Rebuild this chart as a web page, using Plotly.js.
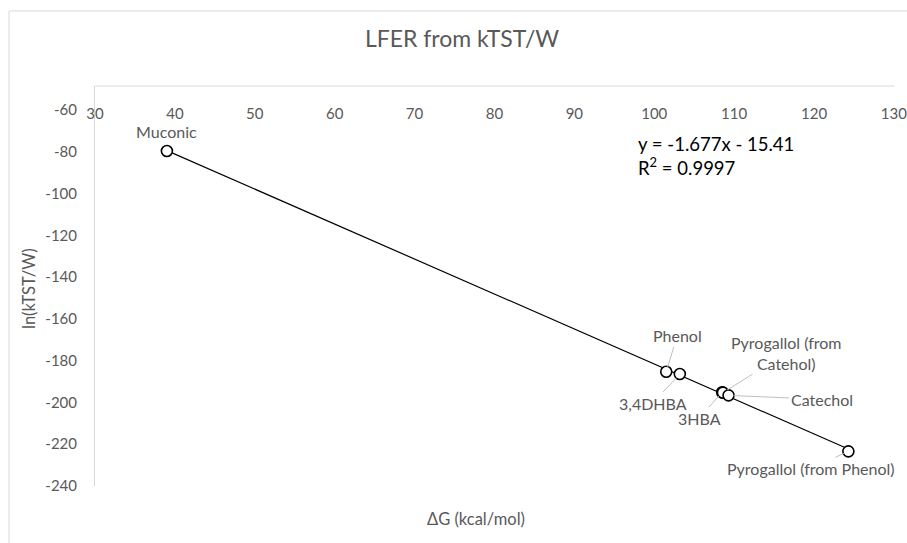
<!DOCTYPE html>
<html>
<head>
<meta charset="utf-8">
<script src="https://cdn.plot.ly/plotly-3.0.1.min.js"></script>
<style>
  html, body { margin: 0; padding: 0; background: #ffffff; }
  #chart { width: 907px; height: 543px; }
</style>
</head>
<body>
<div id="chart"></div>
<script>
// ---- Data ----
const compounds = ["Muconic", "Phenol", "3,4DHBA", "3HBA", "Pyrogallol (from<br>Catehol)", "Catechol", "Pyrogallol (from Phenol)"];
const deltaG    = [39.0, 101.5, 103.2, 108.5, 108.6, 109.3, 124.3];
const lnK       = [-79.6, -185.3, -186.4, -195.1, -195.3, -196.6, -223.4];
const xTicks    = [30, 40, 50, 60, 70, 80, 90, 100, 110, 120, 130];
const yTicks    = [-240, -220, -200, -180, -160, -140, -120, -100, -80, -60];
const equationText = "y = -1.677x - 15.41<br>R<sup>2</sup> = 0.9997";

// label offsets (pixels) for each data label: [ax, ay, showLeader]
const labelOffsets = [
  [0, -19, false],
  [11, -36, true],
  [-27, 29, true],
  [-23, 26, true],
  [64, -40, true],
  [93, 4, true],
  [-37, 17, true]
];

// ---- Linear regression (trendline) from data ----
const n = deltaG.length;
const mx = deltaG.reduce((a, b) => a + b, 0) / n;
const my = lnK.reduce((a, b) => a + b, 0) / n;
let sxy = 0, sxx = 0;
for (let i = 0; i < n; i++) { sxy += (deltaG[i] - mx) * (lnK[i] - my); sxx += (deltaG[i] - mx) ** 2; }
const slope = sxy / sxx;
const intercept = my - slope * mx;
const xMin = Math.min(...deltaG), xMax = Math.max(...deltaG);
const trendX = [xMin, xMax];
const trendY = trendX.map(x => slope * x + intercept);

const FONT = "Lato, 'Open Sans', sans-serif";
const GREY = "#595959";

const traces = [
  {
    x: trendX, y: trendY, mode: "lines", type: "scatter",
    line: { color: "#000000", width: 1.2 }, hoverinfo: "skip", showlegend: false
  },
  {
    x: deltaG, y: lnK, mode: "markers", type: "scatter",
    marker: { symbol: "circle", size: 11, color: "#ffffff", line: { color: "#000000", width: 1.6 } },
    showlegend: false, cliponaxis: false
  }
];

const annotations = compounds.map((c, i) => {
  const o = labelOffsets[i];
  const a = {
    x: deltaG[i], y: lnK[i], xref: "x", yref: "y",
    text: c, align: "center",
    font: { family: FONT, size: 16, color: GREY }
  };
  if (o[2]) {
    Object.assign(a, {
      showarrow: true, ax: o[0], ay: o[1], arrowhead: 0, arrowwidth: 1,
      arrowcolor: "#bfbfbf", standoff: 5
    });
  } else {
    Object.assign(a, { showarrow: false, xshift: o[0], yshift: -o[1] });
  }
  return a;
});

annotations.push({
  xref: "paper", yref: "paper", x: (636 - 95) / 799, y: (486 - 156) / 400, xanchor: "left", yanchor: "middle",
  align: "left", showarrow: false, text: equationText,
  font: { family: FONT, size: 18.5, color: "#000000" }
});
annotations.push({
  xref: "paper", yref: "paper", x: (476 - 95) / 799, y: (486 - 519) / 400,
  xanchor: "center", yanchor: "middle", showarrow: false,
  text: "ΔG (kcal/mol)", font: { family: FONT, size: 16.5, color: GREY }
});
annotations.push({
  xref: "paper", yref: "paper", x: (29 - 95) / 799, y: (486 - 289) / 400,
  xanchor: "center", yanchor: "middle", showarrow: false, textangle: -90,
  text: "ln(kTST/W)", font: { family: FONT, size: 16.5, color: GREY }
});

const layout = {
  width: 907, height: 543,
  margin: { l: 95, r: 13, t: 86, b: 57 },
  paper_bgcolor: "#ffffff", plot_bgcolor: "#ffffff",
  font: { family: FONT, color: GREY },
  title: {
    text: "LFER from kTST/W",
    font: { family: FONT, size: 23, color: GREY },
    xref: "container", x: 462 / 907, xanchor: "center",
    yref: "container", y: 1 - 39 / 543, yanchor: "middle"
  },
  xaxis: {
    range: [30, 130.01], tickvals: xTicks, ticktext: xTicks.map(String),
    anchor: "free", position: (486 - 103) / 400, side: "bottom",
    showline: false, showgrid: false, zeroline: false,
    ticks: "", ticklabeloverflow: "allow",
    tickfont: { family: FONT, size: 15, color: GREY }
  },
  yaxis: {
    range: [-240, -48.5], tickvals: yTicks, ticktext: yTicks.map(String),
    showline: true, linecolor: "#d9d9d9", linewidth: 1,
    showgrid: false, zeroline: false,
    ticks: "outside", ticklen: 14, tickcolor: "rgba(0,0,0,0)",
    tickfont: { family: FONT, size: 15, color: GREY }
  },
  shapes: [
    { type: "line", xref: "paper", yref: "paper", x0: 0, x1: 1, y0: 1, y1: 1,
      line: { color: "#d9d9d9", width: 1 } },
    { type: "rect", xref: "paper", yref: "paper",
      x0: (9 - 95) / 799, x1: (920 - 95) / 799, y0: (486 - 560) / 400, y1: (486 - 11) / 400,
      line: { color: "#d9d9d9", width: 1 }, fillcolor: "rgba(0,0,0,0)" }
  ],
  annotations: annotations,
  showlegend: false
};

Plotly.newPlot("chart", traces, layout, { displayModeBar: false, staticPlot: true });
</script>
</body>
</html>
